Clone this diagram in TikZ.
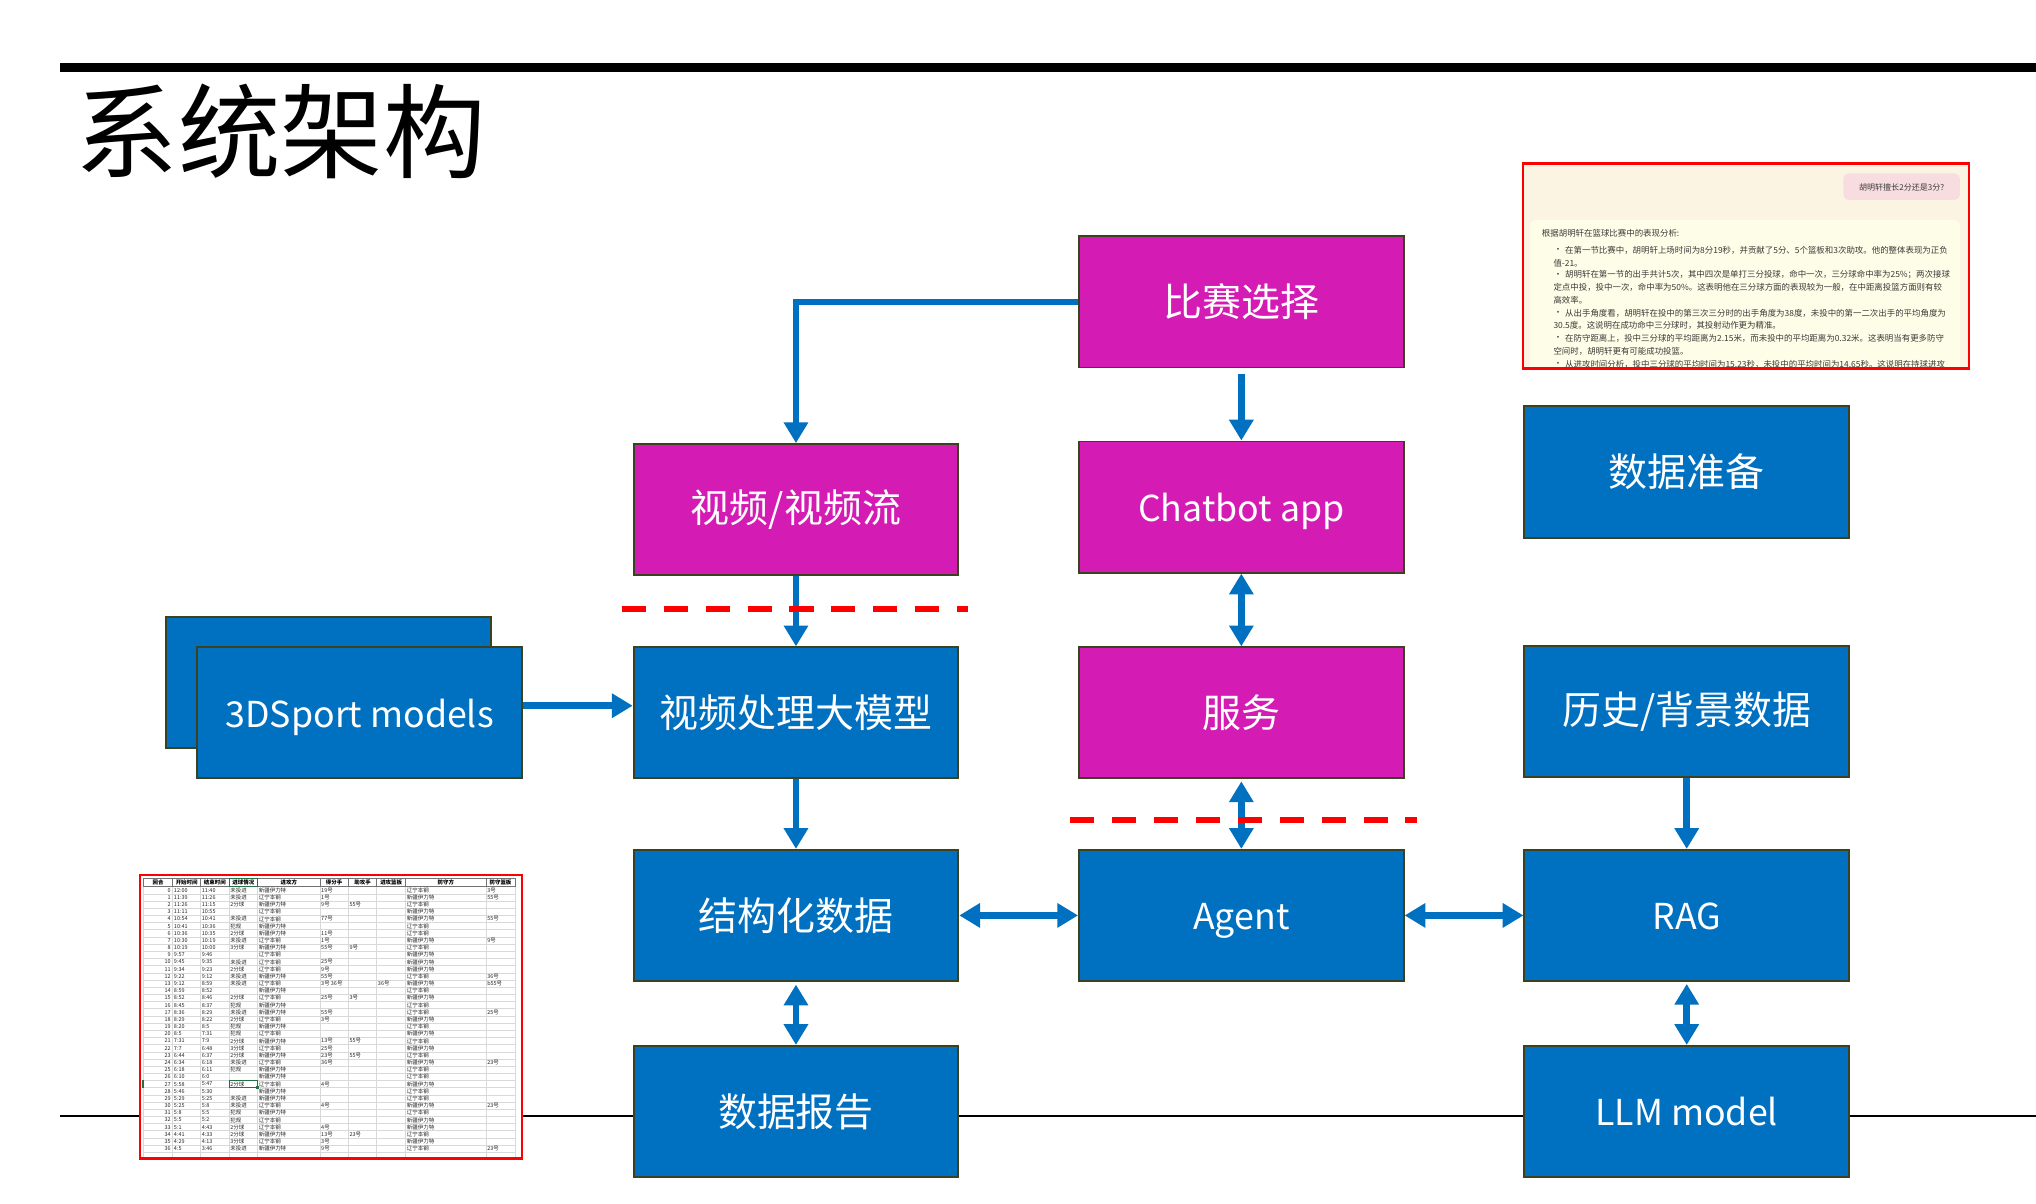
\documentclass[tikz,border=0pt]{standalone}
\usepackage{fontspec}
\usetikzlibrary{arrows.meta}
\newfontfamily\cjk{Noto Sans CJK SC}

\definecolor{boxblue}{HTML}{0070C0}
\definecolor{boxmag}{HTML}{D41CB4}
\definecolor{boxedge}{HTML}{3A4220}
\definecolor{arrowblue}{HTML}{0070C0}
\definecolor{chatbg}{HTML}{FBF4E2}
\definecolor{answerbg}{HTML}{FEFDE7}
\definecolor{bubblebg}{HTML}{F8DDE0}
\definecolor{chattext}{HTML}{3A3A3A}
\definecolor{tgrid}{HTML}{D9D9D9}
\definecolor{selgreen}{HTML}{217346}

\newcommand{\boxfont}{\cjk\fontsize{30}{36}\selectfont}
\newcommand{\latinfont}{\cjk\fontsize{27.5}{33}\selectfont}
\newcommand{\titlefont}{\cjk\fontsize{79}{90}\selectfont}
\newcommand{\chatfont}{\cjk\fontsize{6.5}{8}\selectfont}
\newcommand{\tabfont}{\cjk\fontsize{4.2}{5}\selectfont}

% one row of the play-by-play sheet; the row number comes from a counter
\newcount\trowno
\newcommand{\trow}[9]{%
  \pgfmathsetmacro{\ty}{682.8+5.53*(\the\trowno+0.5)}%
  \node[tcell,anchor=east] at (131.6,\ty) {\the\trowno};
  \node[tcell] at (133.8,\ty) {#1};
  \node[tcell] at (155.3,\ty) {#2};
  \node[tcell] at (177.2,\ty) {#3};
  \node[tcell] at (199.2,\ty) {#4};
  \node[tcell] at (247.2,\ty) {#5};
  \node[tcell] at (269.1,\ty) {#6};
  \node[tcell] at (290.9,\ty) {#7};
  \node[tcell] at (313.2,\ty) {#8};
  \node[tcell] at (375.1,\ty) {#9};
  \global\advance\trowno by 1\relax
}

\begin{document}
\begin{tikzpicture}[x=1pt,y=-1pt,
  box/.style={draw=boxedge, line width=1.5pt, fill=boxblue, text=white,
    minimum width=250pt, minimum height=101pt, inner sep=0pt, font=\boxfont},
  mbox/.style={box, fill=boxmag},
  latin/.style={font=\latinfont, text height=24pt, text depth=2pt},
  tip/.tip={Triangle[length=16pt,width=18pt]},
  arr/.style={draw=arrowblue, line width=5pt, -tip},
  darr/.style={draw=arrowblue, line width=5pt, tip-tip},
  reddash/.style={draw=red, line width=3.9pt, dash pattern=on 18.5pt off 13.8pt},
  tcell/.style={anchor=west, inner sep=0pt, font=\tabfont, text=black!85},
  thead/.style={inner sep=0pt, font=\tabfont\bfseries, text=black},
  cline/.style={anchor=west, inner sep=0pt, font=\chatfont, text=chattext},
]
\fill[white] (0,0) rectangle (1568,927);
\useasboundingbox (0,0) rectangle (1568,927);

% ---- header bar and title ----
\fill[black] (46,48.8) rectangle (1568,55.2);
\node[anchor=west, inner sep=0pt, font=\titlefont] (title) at (58,101.5) {系统架构};

% ---- footer rule ----
\draw[black, line width=2pt] (46,859.5) -- (1568,859.5);

% ---- chat screenshot ----
\begin{scope}
  \clip (1173,125.8) rectangle (1516.4,283.6);
  \fill[chatbg] (1173,125.8) rectangle (1516.4,283.6);
  \fill[bubblebg, rounded corners=4pt] (1419.6,133.5) rectangle (1509.4,154);
  \node[cline, anchor=center, font=\cjk\fontsize{6.2}{7}\selectfont] (question) at (1464.5,144) {胡明轩擅长2分还是3分?};
  \fill[answerbg, rounded corners=4pt] (1178.3,169.4) rectangle (1509.4,300);
  \node[cline] (a0) at (1187.3,179.7) {根据胡明轩在篮球比赛中的表现分析:};
  \node[cline] (b1) at (1196.5,192.5) {•};
  \node[cline] (a1) at (1205.2,192.5) {在第一节比赛中，胡明轩上场时间为8分19秒，并贡献了5分、5个篮板和3次助攻。他的整体表现为正负};
  \node[cline] (a2) at (1196.2,202.8) {值-21。};
  \node[cline] (b2) at (1196.5,211.8) {•};
  \node[cline] (a3) at (1205.2,211.8) {胡明轩在第一节的出手共计5次，其中四次是单打三分投球，命中一次，三分球命中率为25\%；两次接球};
  \node[cline] (a4) at (1196.2,221.3) {定点中投，投中一次，命中率为50\%。这表明他在三分球方面的表现较为一般，在中距离投篮方面则有较};
  \node[cline] (a5) at (1196.2,231.6) {高效率。};
  \node[cline] (b3) at (1196.5,241.3) {•};
  \node[cline] (a6) at (1205.2,241.3) {从出手角度看，胡明轩在投中的第三次三分时的出手角度为38度，未投中的第一二次出手的平均角度为};
  \node[cline] (a7) at (1196.2,250.5) {30.5度。这说明在成功命中三分球时，其投射动作更为精准。};
  \node[cline] (b4) at (1196.5,260.5) {•};
  \node[cline] (a8) at (1205.2,260.5) {在防守距离上，投中三分球的平均距离为2.15米，而未投中的平均距离为0.32米。这表明当有更多防守};
  \node[cline] (a9) at (1196.2,270.3) {空间时，胡明轩更有可能成功投篮。};
  \node[cline] (b5) at (1196.5,280.6) {•};
  \node[cline] (a10) at (1205.2,280.6) {从进攻时间分析，投中三分球的平均时间为15.23秒，未投中的平均时间为14.65秒。这说明在持球进攻};
\end{scope}
\draw[red, line width=2pt] (1173,125.8) rectangle (1516.4,283.6);

% ---- play-by-play sheet ----
\begin{scope}
  \clip (107.8,674) rectangle (402,892);
  \fill[white] (107.8,674) rectangle (402,892);
  \foreach \k in {0,...,37}
    \draw[tgrid, line width=0.4pt] (110.4,{682.8+5.53*\k}) -- (396.6,{682.8+5.53*\k});
  \foreach \cx in {110.4,133.0,154.5,176.4,198.4,246.4,268.3,290.1,312.4,374.3,396.6}
    \draw[tgrid, line width=0.4pt] (\cx,682.8) -- (\cx,892);
  \foreach \cx in {110.4,133.0,154.5,176.4,198.4,246.4,268.3,290.1,312.4,374.3,396.6}
    \draw[black!55, line width=0.5pt] (\cx,676.4) -- (\cx,682.8);
  \draw[black!55, line width=0.5pt] (110.4,676.4) -- (396.6,676.4);
  \draw[black!55, line width=0.5pt] (110.4,682.8) -- (396.6,682.8);
  \draw[selgreen, line width=0.6pt] (176.4,676.4) rectangle (198.4,682.8);
  \node[thead] (h0) at (121.7,679.6) {回合};
  \node[thead] (h1) at (143.75,679.6) {开始时间};
  \node[thead] (h2) at (165.45,679.6) {结束时间};
  \node[thead] (h3) at (187.4,679.6) {进球情况};
  \node[thead] (h4) at (222.4,679.6) {进攻方};
  \node[thead] (h5) at (257.35,679.6) {得分手};
  \node[thead] (h6) at (279.2,679.6) {助攻手};
  \node[thead] (h7) at (301.25,679.6) {进攻篮板};
  \node[thead] (h8) at (343.35,679.6) {防守方};
  \node[thead] (h9) at (385.45,679.6) {防守篮板};
  \global\trowno=0\relax
  \trow{12:00}{11:40}{未投进}{新疆伊力特}{19号}{}{}{辽宁本钢}{3号}
  \trow{11:39}{11:26}{未投进}{辽宁本钢}{1号}{}{}{新疆伊力特}{55号}
  \trow{11:26}{11:15}{2分球}{新疆伊力特}{9号}{55号}{}{辽宁本钢}{}
  \trow{11:11}{10:55}{}{辽宁本钢}{}{}{}{新疆伊力特}{}
  \trow{10:54}{10:41}{未投进}{辽宁本钢}{77号}{}{}{新疆伊力特}{55号}
  \trow{10:41}{10:36}{犯规}{新疆伊力特}{}{}{}{辽宁本钢}{}
  \trow{10:36}{10:35}{2分球}{新疆伊力特}{11号}{}{}{辽宁本钢}{}
  \trow{10:30}{10:19}{未投进}{辽宁本钢}{1号}{}{}{新疆伊力特}{9号}
  \trow{10:19}{10:00}{3分球}{新疆伊力特}{55号}{9号}{}{辽宁本钢}{}
  \trow{9:57}{9:46}{}{辽宁本钢}{}{}{}{新疆伊力特}{}
  \trow{9:45}{9:35}{未投进}{辽宁本钢}{25号}{}{}{新疆伊力特}{}
  \trow{9:34}{9:23}{2分球}{辽宁本钢}{9号}{}{}{新疆伊力特}{}
  \trow{9:22}{9:12}{未投进}{新疆伊力特}{55号}{}{}{辽宁本钢}{36号}
  \trow{9:12}{8:59}{未投进}{辽宁本钢}{3号 36号}{}{36号}{新疆伊力特}{b55号}
  \trow{8:59}{8:52}{}{新疆伊力特}{}{}{}{辽宁本钢}{}
  \trow{8:52}{8:46}{2分球}{辽宁本钢}{25号}{3号}{}{新疆伊力特}{}
  \trow{8:45}{8:37}{犯规}{新疆伊力特}{}{}{}{辽宁本钢}{}
  \trow{8:36}{8:29}{未投进}{新疆伊力特}{55号}{}{}{辽宁本钢}{25号}
  \trow{8:29}{8:22}{2分球}{辽宁本钢}{3号}{}{}{新疆伊力特}{}
  \trow{8:20}{8:5}{犯规}{新疆伊力特}{}{}{}{辽宁本钢}{}
  \trow{8:5}{7:31}{犯规}{辽宁本钢}{}{}{}{新疆伊力特}{}
  \trow{7:31}{7:9}{2分球}{新疆伊力特}{13号}{55号}{}{辽宁本钢}{}
  \trow{7:7}{6:48}{3分球}{辽宁本钢}{25号}{}{}{新疆伊力特}{}
  \trow{6:44}{6:37}{2分球}{新疆伊力特}{23号}{55号}{}{辽宁本钢}{}
  \trow{6:34}{6:18}{未投进}{辽宁本钢}{36号}{}{}{新疆伊力特}{23号}
  \trow{6:18}{6:11}{犯规}{新疆伊力特}{}{}{}{辽宁本钢}{}
  \trow{6:10}{6:0}{}{新疆伊力特}{}{}{}{辽宁本钢}{}
  \trow{5:58}{5:47}{2分球}{辽宁本钢}{4号}{}{}{新疆伊力特}{}
  \trow{5:46}{5:30}{}{新疆伊力特}{}{}{}{辽宁本钢}{}
  \trow{5:29}{5:25}{未投进}{新疆伊力特}{}{}{}{辽宁本钢}{}
  \trow{5:25}{5:8}{未投进}{辽宁本钢}{4号}{}{}{新疆伊力特}{23号}
  \trow{5:8}{5:5}{犯规}{新疆伊力特}{}{}{}{辽宁本钢}{}
  \trow{5:5}{5:2}{犯规}{辽宁本钢}{}{}{}{新疆伊力特}{}
  \trow{5:1}{4:43}{2分球}{辽宁本钢}{4号}{}{}{新疆伊力特}{}
  \trow{4:41}{4:33}{2分球}{新疆伊力特}{13号}{23号}{}{辽宁本钢}{}
  \trow{4:29}{4:13}{3分球}{辽宁本钢}{3号}{}{}{新疆伊力特}{}
  \trow{4:5}{3:46}{未投进}{新疆伊力特}{9号}{}{}{辽宁本钢}{23号}
  % selected cell
  \draw[selgreen, line width=0.8pt] (176.4,832.1) rectangle (198.4,837.6);
  \fill[selgreen] (197.4,836.6) rectangle (199.4,838.6);
  \fill[selgreen] (109.4,832.1) rectangle (110.9,837.6);
\end{scope}
\draw[red, line width=2pt] (107.8,674) rectangle (402,892);

% ---- blocks ----
\node[mbox] (select)  at (956,232.5) {比赛选择};
\node[mbox] (video)   at (613,392.5) {视频/视频流};
\node[mbox, latin] (chatbot) at (956,390.5) {Chatbot app};
\node[box]  (prep)    at (1299,363.5) {数据准备};
\node[box]  (modelsback) at (253,525.5) {};
\node[box, latin]  (models)  at (277,549) {3DSport models};
\node[box]  (vproc)   at (613,549) {视频处理大模型};
\node[mbox] (service) at (956,549) {服务};
\node[box]  (history) at (1299,548) {历史/背景数据};
\node[box]  (struct)  at (613,705) {结构化数据};
\node[box, latin]  (agent)   at (956,705) {Agent};
\node[box, latin]  (rag)     at (1299,705) {RAG};
\node[box]  (report)  at (613,856) {数据报告};
\node[box, latin]  (llm)     at (1299,856) {LLM model};

% ---- connectors ----
\draw[arr] (select.west) -| (video.north);
\draw[arr] ([yshift=-4pt]select.south) -- (chatbot.north);
\draw[darr] (chatbot.south) -- (service.north);
\draw[arr] (video.south) -- (vproc.north);
\draw[arr] ([yshift=5.5pt]models.east) -- ([yshift=5.5pt]vproc.west);
\draw[arr] (vproc.south) -- (struct.north);
\draw[darr] ([yshift=-1.5pt]service.south) -- (agent.north);
\draw[darr] (struct.east) -- (agent.west);
\draw[darr] (agent.east) -- (rag.west);
\draw[arr] (history.south) -- (rag.north);
\draw[darr] ([yshift=-2pt]struct.south) -- (report.north);
\draw[darr] ([yshift=-1.5pt]rag.south) -- (llm.north);

% ---- boundary markers ----
\draw[reddash] (478.8,469) -- (745.6,469);
\draw[reddash] (824,631.5) -- (1091,631.5);
\end{tikzpicture}
\end{document}
